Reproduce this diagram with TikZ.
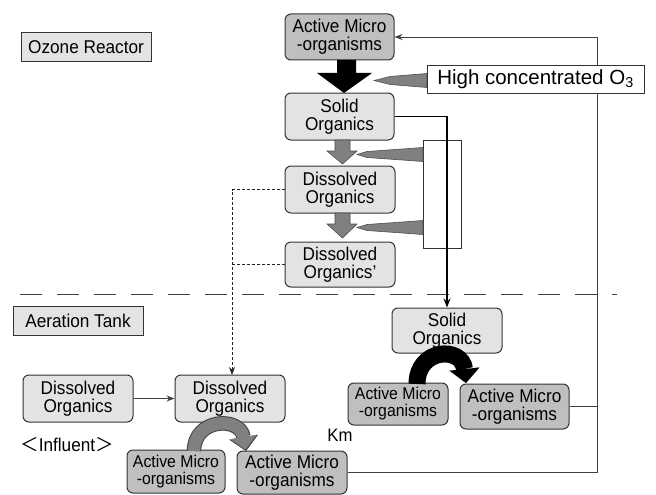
\documentclass[tikz,border=0pt]{standalone}
\usepackage{fontspec}
\setmainfont{Liberation Sans}[FakeStretch=0.93]
\newfontfamily\plainfont{Liberation Sans}
\newfontfamily\cjk{Noto Sans CJK JP}
\usetikzlibrary{arrows.meta}

\begin{document}
\begin{tikzpicture}[x=1pt, y=-1pt,
  box/.style={draw=black!80, line width=1pt, rounded corners=6pt, align=center, inner sep=0pt, font=\fontsize{18.5}{18}\selectfont},
  org/.style={box, fill=black!11},
  mic/.style={box, fill=black!25},
  small/.style={font=\fontsize{17}{17}\selectfont},
  tag/.style={draw=black!80, line width=1pt, fill=black!11, inner sep=0pt, font=\fontsize{18.5}{18}\selectfont},
  link/.style={draw=black!75, line width=0.9pt},
  tip/.style={-{Stealth[length=8pt,width=6pt]}},
  grayarrow/.style={fill=black!50, draw=black!70, line width=0.6pt}]
\useasboundingbox (0,0) rectangle (656,495);

% ozone reactor
\node[tag, minimum width=130, minimum height=29] (ozone) at (86,47.5) {Ozone Reactor};
\node[mic, minimum width=109, minimum height=46] (am1) at (339.5,37) {Active Micro\\-organisms};
\node[org, minimum width=109, minimum height=47] (so1) at (339.5,116.5) {Solid\\Organics};
\node[org, minimum width=110, minimum height=47] (do1) at (340,189.5) {Dissolved\\Organics};
\node[org, minimum width=110, minimum height=45] (do2) at (340,264.5) {Dissolved\\Organics'};
\node[draw=black!80, line width=0.9pt, fill=white, minimum width=38, minimum height=108, inner sep=0pt] (contact) at (442,194) {};

% aeration tank
\node[tag, minimum width=130, minimum height=29] (aeration) at (78,320.5) {Aeration Tank};
\node[org, minimum width=110, minimum height=45] (so2) at (447,330.5) {Solid\\Organics};
\node[mic, small, minimum width=100, minimum height=42] (am2) at (398,404) {Active Micro\\-organisms};
\node[mic, minimum width=109, minimum height=45] (am3) at (514.5,406.5) {Active Micro\\-organisms};
\node[org, minimum width=110, minimum height=47] (doIn) at (78,398.5) {Dissolved\\Organics};
\node[org, minimum width=110, minimum height=47] (doMid) at (230,398.5) {Dissolved\\Organics};
\node[mic, small, minimum width=98, minimum height=43] (am4) at (176,471.5) {Active Micro\\-organisms};
\node[mic, minimum width=110, minimum height=43] (am5) at (292,472.5) {Active Micro\\-organisms};
\node[font=\fontsize{18}{18}\selectfont] (km) at (340,435) {Km};
\node[font=\fontsize{18.5}{18}\selectfont] (influent) at (67,445) {{\cjk ＜}Influent{\cjk ＞}};

% separator
\draw[black!75, line width=1.4pt, dash pattern=on 22pt off 15pt] (20,294.5) -- (617,294.5);

% return line
\coordinate (loopTop) at (597,37);
\draw[link] (am3.east) -- (am3.east -| loopTop);
\draw[link, tip] (am5.east) -| (loopTop) -- (am1.east);

% solid organics to aeration tank
\draw[black, line width=1.8pt, -{Stealth[length=9pt,width=7pt]}] (so1.east) -| (so2.north);

% dissolved organics to aeration tank
\draw[black!85, line width=0.8pt, dash pattern=on 3pt off 2pt] (do2.west) -- (232,264.5);
\draw[black!85, line width=0.8pt, dash pattern=on 3pt off 2pt, tip] (do1.west) -- (232,189.5) -- (232,375);
\draw[link, tip] (doIn.east) -- (doMid.west);

% big black arrow
\fill[black] (337,60) -- (356,60) -- (356,73) -- (372,73) -- (344,93) -- (317,73) -- (337,73) -- cycle;
% gray down arrows
\draw[grayarrow] (335,140) -- (350,140) -- (350,151) -- (357,151) -- (342.5,164) -- (327,151) -- (335,151) -- cycle;
\draw[grayarrow] (335,213) -- (350,213) -- (350,224) -- (357,224) -- (342.5,238) -- (327,224) -- (335,224) -- cycle;
% ozone wedges
\draw[grayarrow] (357,154.5) -- (367,151.5) -- (423,147.5) -- (423,161.5) -- (367,157.5) -- cycle;
\draw[grayarrow] (357,227.5) -- (367,224.5) -- (423,220.5) -- (423,234.5) -- (367,230.5) -- cycle;
\draw[grayarrow] (374,80.5) -- (390,76.5) -- (427,73.5) -- (427,87.5) -- (390,84.5) -- cycle;

% curved arrows
\draw[black!75, line width=14.5pt, -{Triangle[length=14pt,width=29pt,line width=0.1pt]}] (194,451) .. controls (194,418) and (240,416) .. (246,451);
\draw[black!50, line width=12.5pt, -{Triangle[length=12.5pt,width=26pt,line width=0.1pt]}] (194,451) .. controls (194,418) and (240,416) .. (245.5,449.5);
\draw[black, line width=17pt, -{Triangle[length=14pt,width=30pt,line width=0.1pt]}] (417,384) .. controls (417,348) and (462,346) .. (466,383);

\node[draw=black!80, line width=0.9pt, fill=white, minimum width=217, minimum height=28, inner sep=0pt, font=\plainfont\fontsize{20.5}{20}\selectfont] (o3) at (535.5,79) {High concentrated O\textsubscript{3}};
\end{tikzpicture}
\end{document}
